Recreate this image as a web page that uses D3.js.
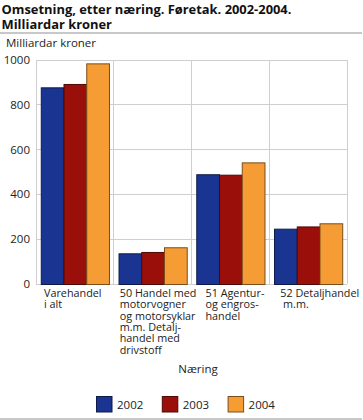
<!DOCTYPE html>
<html><head><meta charset="utf-8">
<script src="https://cdn.jsdelivr.net/npm/d3@7"></script>
<style>
body{margin:0;background:#fff;}
text{font-family:"Open Sans","DejaVu Sans",sans-serif;}
</style></head>
<body><svg id="c" width="363" height="420"></svg>
<script>
const categories = ["Varehandel i alt","50 Handel med motorvogner og motorsyklar m.m. Detaljhandel med drivstoff","51 Agentur- og engroshandel","52 Detaljhandel m.m."];
const categoryLines = [
  ["Varehandel","i alt"],
  ["50 Handel med","motorvogner","og motorsyklar","m.m. Detalj-","handel med","drivstoff"],
  ["51 Agentur-","og engros-","handel"],
  ["52 Detaljhandel"," m.m."]
];
const years = ["2002","2003","2004"];
const values2002 = [878, 137, 490, 247];
const values2003 = [893, 143, 488, 257];
const values2004 = [985, 164, 543, 271];
const yTicks = [0,200,400,600,800,1000];
const colors = ["#1a3591","#9b0f0b","#f59c34"];
const strokes = ["#0d1a48","#4d0805","#7a4e1a"];

const series = [values2002, values2003, values2004];
const svg = d3.select("#c");
const m = {l:36, r:347, t:60, b:284};

svg.append("text").attr("x",1.5).attr("y",13.5).attr("font-size",12.9).attr("font-weight","bold").attr("fill","#111")
  .text("Omsetning, etter næring. Føretak. 2002-2004.");
svg.append("text").attr("x",1.5).attr("y",28.5).attr("font-size",12.9).attr("font-weight","bold").attr("fill","#111")
  .text("Milliardar kroner");
svg.append("rect").attr("x",0).attr("y",32).attr("width",362).attr("height",2).attr("fill","#c8c8c8");

svg.append("text").attr("x",6).attr("y",46.5).attr("font-size",11.5).attr("fill","#222").text("Milliardar kroner");

const x = d3.scaleBand().domain(categories).range([m.l,m.r]).padding(0);
const xi = d3.scaleBand().domain(years).range([0,x.bandwidth()]).paddingInner(0).paddingOuter(0.21);
const y = d3.scaleLinear().domain([0,1000]).range([m.b,m.t]);

// grid
const g = svg.append("g");
g.selectAll("line.h").data(yTicks).join("line")
  .attr("x1",m.l).attr("x2",m.r).attr("y1",d=>y(d)).attr("y2",d=>y(d))
  .attr("stroke","#cfcfcf").attr("stroke-width",1).attr("shape-rendering","crispEdges");
const seps = categories.map(c=>x(c)).concat([m.r]);
g.selectAll("line.v").data(seps).join("line")
  .attr("x1",d=>d).attr("x2",d=>d).attr("y1",m.t).attr("y2",m.b)
  .attr("stroke","#cfcfcf").attr("stroke-width",1).attr("shape-rendering","crispEdges");

// y tick labels
svg.append("g").selectAll("text").data(yTicks).join("text")
  .attr("x",30).attr("y",d=>y(d)+4).attr("text-anchor","end").attr("font-size",11.5).attr("fill","#222")
  .text(d=>d);

// bars
categories.forEach((c,ci)=>{
  years.forEach((yr,si)=>{
    const v = series[si][ci];
    svg.append("rect")
      .attr("x",x(c)+xi(yr)+0.5).attr("y",y(v)+0.5)
      .attr("width",xi.bandwidth()).attr("height",y(0)-y(v))
      .attr("fill",colors[si]).attr("stroke",strokes[si]).attr("stroke-width",1);
  });
});

// category labels (left-aligned blocks within each band)
const labelIndent = [8, 6, 14, 11];
categories.forEach((c,ci)=>{
  const t = svg.append("text").attr("font-size",10.8).attr("fill","#222")
    .attr("transform",`translate(${x(c)+labelIndent[ci]},0)`);
  categoryLines[ci].forEach((ln,li)=>{
    t.append("tspan").attr("x",0).attr("y",297+li*11.3).style("white-space","pre").text(ln);
  });
});

svg.append("text").attr("x",198).attr("y",373).attr("text-anchor","middle").attr("font-size",11.5).attr("fill","#222").text("Næring");

// legend
const lg = svg.append("g");
years.forEach((yr,i)=>{
  const lx = 96 + i*65.8;
  lg.append("rect").attr("x",lx+0.5).attr("y",396.5).attr("width",15.5).attr("height",15.5)
    .attr("fill",colors[i]).attr("stroke",strokes[i]);
  lg.append("text").attr("x",lx+21).attr("y",408.5).attr("font-size",11.5).attr("fill","#222").text(yr);
});
svg.append("rect").attr("x",0).attr("y",418).attr("width",362).attr("height",2).attr("fill","#c8c8c8");
</script></body></html>
